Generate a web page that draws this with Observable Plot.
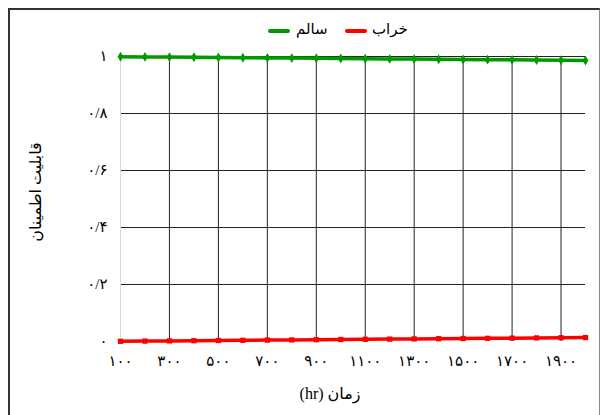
<!DOCTYPE html>
<html><head><meta charset="utf-8">
<script src="https://cdn.jsdelivr.net/npm/d3@7"></script>
<script src="https://cdn.jsdelivr.net/npm/@observablehq/plot@0.6"></script>
<style>
body{margin:0;background:#fff;}
#wrap{position:relative;width:602px;height:415px;overflow:hidden;font-family:"Times New Roman","DejaVu Sans",serif;}
#frame{position:absolute;left:8px;top:8px;width:592px;height:420px;border-top:2px solid #333;border-left:2px solid #333;border-right:1px solid #888;box-sizing:border-box;}
.lab{position:absolute;font-size:15px;color:#000;white-space:nowrap;}
.sw{position:absolute;height:4px;border-radius:2px;}
svg{position:absolute;left:0;top:0;}
</style></head>
<body><div id="wrap"><div id="frame"></div></div>
<script>
const hours = [100,200,300,400,500,600,700,800,900,1000,1100,1200,1300,1400,1500,1600,1700,1800,1900,2000];
const healthy = [0.9993,0.9986,0.9979,0.9972,0.9965,0.9958,0.9951,0.9944,0.9937,0.993,0.9923,0.9916,0.9909,0.9902,0.9896,0.9889,0.9882,0.9875,0.9868,0.9861];
const failed = [0.0007,0.0014,0.0021,0.0028,0.0035,0.0042,0.0049,0.0056,0.0063,0.007,0.0077,0.0084,0.0091,0.0098,0.0104,0.0111,0.0118,0.0125,0.0132,0.0139];
const xTicks = [100,300,500,700,900,1100,1300,1500,1700,1900];
const yTicks = [0,0.2,0.4,0.6,0.8,1];
const seriesNames = ["سالم","خراب"];
const seriesColors = ["#009a00","#ff0000"];
const xTitle = "زمان (hr)";
const yTitle = "قابلیت اطمینان";

const fa = v => String(v).replace(/\d/g, d => "۰۱۲۳۴۵۶۷۸۹"[d]).replace(".", "/");
const gData = hours.map((h,i)=>({h, v: healthy[i]}));
const rData = hours.map((h,i)=>({h, v: failed[i]}));

const chart = Plot.plot({
  width: 602, height: 415,
  marginLeft: 120, marginRight: 17, marginTop: 56, marginBottom: 74,
  style: {fontFamily: '"Times New Roman","DejaVu Sans",serif', fontSize: "15px", background: "transparent", color: "#000"},
  x: {domain: [100, 2000]},
  y: {domain: [0, 1]},
  marks: [
    Plot.ruleY(yTicks.filter(d => d > 0), {stroke: "#222", strokeWidth: 1, strokeOpacity: 1}),
    Plot.ruleX(xTicks.slice(1), {stroke: "#222", strokeWidth: 1, strokeOpacity: 1}),
    Plot.ruleX(xTicks.slice(0,1), {stroke: "#d9d9d9", strokeWidth: 1, strokeOpacity: 1}),
    Plot.axisX({ticks: xTicks, tickFormat: fa, tickSize: 0, tickPadding: 14, label: null, fontSize: 15}),
    Plot.axisY({ticks: yTicks, tickFormat: fa, tickSize: 0, tickPadding: 13, label: null, fontSize: 15}),
    Plot.line(gData, {x: "h", y: "v", stroke: seriesColors[0], strokeWidth: 3.5}),
    Plot.dot(gData, {x: "h", y: "v", fill: seriesColors[0], symbol: "diamond", r: 3}),
    Plot.line(rData, {x: "h", y: "v", stroke: seriesColors[1], strokeWidth: 3.5}),
    Plot.dot(rData, {x: "h", y: "v", fill: seriesColors[1], symbol: "square", r: 3})
  ]
});
const wrap = document.getElementById("wrap");
wrap.appendChild(chart);

function addLabel(text, css){
  const d = document.createElement("div");
  d.className = "lab"; d.dir = "rtl"; d.textContent = text;
  Object.assign(d.style, css);
  wrap.appendChild(d);
  return d;
}
function addSwatch(color, left){
  const s = document.createElement("div");
  s.className = "sw"; s.style.background = color; s.style.left = left + "px"; s.style.top = "29px"; s.style.width = "22px";
  wrap.appendChild(s);
}
addSwatch(seriesColors[0], 268);
addLabel(seriesNames[0], {left: "296px", top: "20px"});
addSwatch(seriesColors[1], 345);
addLabel(seriesNames[1], {left: "372px", top: "20px"});
addLabel(xTitle, {left: "330px", top: "384px", transform: "translateX(-50%)", fontSize: "16px"});
addLabel(yTitle, {left: "35px", top: "192px", transform: "translate(-50%,-50%) rotate(-90deg)", fontSize: "16px"});
</script></body></html>
